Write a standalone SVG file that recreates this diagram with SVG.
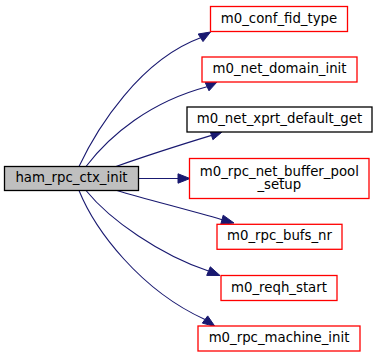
<svg xmlns="http://www.w3.org/2000/svg" width="377" height="357" viewBox="0 0 377 357">
  <style>
    .node rect { fill: #ffffff; stroke-width: 1.3; }
    .node.ref rect { stroke: #ff0000; }
    .node.plain rect { stroke: #000000; }
    .node.root rect { fill: #bfbfbf; stroke: #000000; }
    .node text { font-family: "DejaVu Sans", "Liberation Sans", sans-serif; font-size: 13.3px; fill: #000000; text-anchor: middle; }
    .edges path { fill: none; stroke: #191970; stroke-width: 1.1; }
    .edges polygon { fill: #191970; stroke: #191970; stroke-width: 1; }
  </style>
  <rect width="377" height="357" fill="#ffffff"/>

  <!-- call edges: caller on the left, callees on the right -->
  <g id="edges" class="edges">
    <path d="M79,166.5 C97,128 140,60 200.6,37.8"/>
    <polygon points="210.5,32 203,41.6 198.2,34"/>

    <path d="M86,166.5 C110,135 150,102 207,86.8"/>
    <polygon points="217,82 209,90.8 205.2,82.6"/>

    <path d="M116,166.5 C140,158 180,145 211.5,135.4"/>
    <polygon points="222,132 212.9,139.7 210.1,131.1"/>

    <path d="M138.5,178.5 L178,178.5"/>
    <polygon points="190,178.5 178,173.8 178,183.2"/>

    <path d="M117,190.5 C145,199 185,209 222,219.7"/>
    <polygon points="234,223 220.8,224.2 223.2,215.2"/>

    <path d="M86,190.5 C110,220 160,255 208.5,271.1"/>
    <polygon points="220,275.5 206.7,275.4 210.3,266.8"/>

    <path d="M79,190.5 C95,230 140,290 205,319.5"/>
    <polygon points="215,326.5 202.3,323.1 207.7,315.9"/>
  </g>

  <g id="node-ham_rpc_ctx_init" class="node root">
    <rect x="4.5" y="166.5" width="134" height="24"/>
    <text x="71.5" y="181.5">ham_rpc_ctx_init</text>
  </g>

  <g id="node-m0_conf_fid_type" class="node ref">
    <rect x="210.5" y="6.5" width="137" height="25"/>
    <text x="279" y="22.5">m0_conf_fid_type</text>
  </g>

  <g id="node-m0_net_domain_init" class="node ref">
    <rect x="202" y="57" width="155" height="25"/>
    <text x="279.5" y="73">m0_net_domain_init</text>
  </g>

  <g id="node-m0_net_xprt_default_get" class="node plain">
    <rect x="187" y="107" width="185" height="25"/>
    <text x="279.5" y="123">m0_net_xprt_default_get</text>
  </g>

  <g id="node-m0_rpc_net_buffer_pool_setup" class="node ref">
    <rect x="189.5" y="158.5" width="179.5" height="40"/>
    <text x="279.3" y="175.5">m0_rpc_net_buffer_pool</text>
    <text x="279.3" y="188.8">_setup</text>
  </g>

  <g id="node-m0_rpc_bufs_nr" class="node ref">
    <rect x="217" y="224.3" width="125" height="25"/>
    <text x="279.5" y="240.3">m0_rpc_bufs_nr</text>
  </g>

  <g id="node-m0_reqh_start" class="node ref">
    <rect x="221" y="275.5" width="116" height="25"/>
    <text x="279" y="291.5">m0_reqh_start</text>
  </g>

  <g id="node-m0_rpc_machine_init" class="node ref">
    <rect x="198" y="326" width="162" height="25"/>
    <text x="279" y="342">m0_rpc_machine_init</text>
  </g>
</svg>
